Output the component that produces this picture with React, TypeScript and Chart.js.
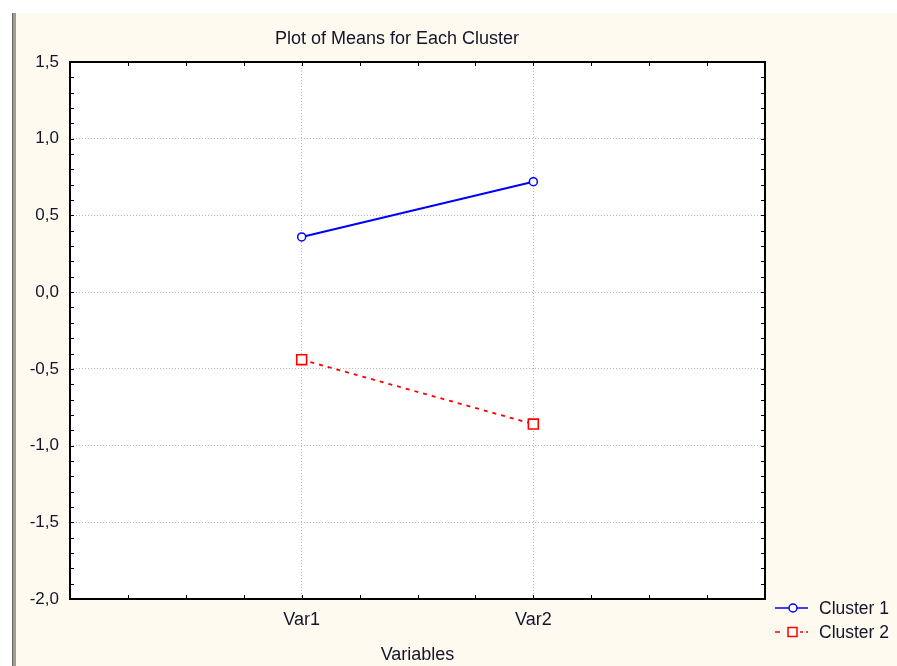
import React, { useEffect, useRef } from 'react';
import { Chart, registerables } from 'chart.js';

Chart.register(...registerables);

const categories = ['Var1', 'Var2'];
const seriesNames = ['Cluster 1', 'Cluster 2'];
const cluster1 = [0.36, 0.72];
const cluster2 = [-0.44, -0.86];
const yTickValues = [-2, -1.5, -1, -0.5, 0, 0.5, 1, 1.5];
const chartTitle = 'Plot of Means for Each Cluster';
const xAxisTitle = 'Variables';

const FONT = "'Liberation Sans', Arial, sans-serif";
const TEXT = '#14142a';
const BLUE = '#0000ff';
const RED = '#ff0000';

const decorPlugin = {
  id: 'decor',
  beforeDraw(chart: any) {
    const { ctx, width, height } = chart;
    const a = chart.chartArea;
    ctx.save();
    ctx.fillStyle = '#ffffff';
    ctx.fillRect(0, 0, width, height);
    ctx.fillStyle = '#fffaf0';
    ctx.fillRect(12, 13, width - 12, height - 13);
    ctx.fillStyle = '#a09e96';
    ctx.fillRect(12, 13, 4, height - 13);
    ctx.fillStyle = '#6a6862';
    ctx.fillRect(12, 13, 1, height - 13);
    ctx.fillStyle = '#ffffff';
    ctx.fillRect(a.left, a.top, a.right - a.left, a.bottom - a.top);
    ctx.fillStyle = TEXT;
    ctx.font = `18px ${FONT}`;
    ctx.textAlign = 'center';
    ctx.textBaseline = 'alphabetic';
    ctx.fillText(chartTitle, 397, 44);
    ctx.restore();
  },
  afterDraw(chart: any) {
    const { ctx } = chart;
    const a = chart.chartArea;
    const xs = chart.scales.x;
    const ys = chart.scales.y;
    ctx.save();
    // frame
    ctx.strokeStyle = '#000000';
    ctx.lineWidth = 2;
    ctx.strokeRect(a.left, a.top, a.right - a.left, a.bottom - a.top);
    // inward tick marks
    ctx.lineWidth = 1;
    ctx.beginPath();
    for (let i = 1; i < 12; i++) {
      const px = Math.round(xs.getPixelForValue(xs.min + i * 0.25)) + 0.5;
      ctx.moveTo(px, a.bottom);
      ctx.lineTo(px, a.bottom - 4);
      ctx.moveTo(px, a.top);
      ctx.lineTo(px, a.top + 4);
    }
    for (let i = 1; i < 35; i++) {
      const py = Math.round(ys.getPixelForValue(ys.min + i * 0.1)) + 0.5;
      ctx.moveTo(a.left, py);
      ctx.lineTo(a.left + 4, py);
      ctx.moveTo(a.right, py);
      ctx.lineTo(a.right - 4, py);
    }
    ctx.stroke();
    // legend
    const items = [
      { name: seriesNames[0], color: BLUE, dashed: false, shape: 'circle' },
      { name: seriesNames[1], color: RED, dashed: true, shape: 'rect' },
    ];
    items.forEach((it, i) => {
      const y = 608 + i * 24;
      ctx.strokeStyle = it.color;
      ctx.lineWidth = 1.5;
      ctx.beginPath();
      if (it.dashed) {
        ctx.moveTo(775, y);
        ctx.lineTo(780, y);
        ctx.moveTo(800, y);
        ctx.lineTo(803, y);
        ctx.moveTo(806, y);
        ctx.lineTo(808, y);
      } else {
        ctx.moveTo(775, y);
        ctx.lineTo(808, y);
      }
      ctx.stroke();
      ctx.fillStyle = '#ffffff';
      ctx.beginPath();
      if (it.shape === 'circle') {
        ctx.arc(793, y, 4, 0, Math.PI * 2);
      } else {
        ctx.rect(788, y - 4.5, 9, 9);
      }
      ctx.fill();
      ctx.stroke();
      ctx.fillStyle = TEXT;
      ctx.font = `17.5px ${FONT}`;
      ctx.textAlign = 'left';
      ctx.textBaseline = 'alphabetic';
      ctx.fillText(it.name, 819, y + 6);
    });
    ctx.restore();
  },
};

export default function App() {
  const ref = useRef<HTMLCanvasElement | null>(null);
  useEffect(() => {
    if (!ref.current) return;
    const chart = new Chart(ref.current, {
      type: 'line',
      data: {
        datasets: [
          {
            label: seriesNames[0],
            data: categories.map((_, i) => ({ x: i + 1, y: cluster1[i] })),
            borderColor: BLUE,
            borderWidth: 2,
            pointStyle: 'circle',
            pointRadius: 4,
            pointBorderWidth: 1.5,
            pointBackgroundColor: '#ffffff',
            pointBorderColor: BLUE,
            tension: 0,
          },
          {
            label: seriesNames[1],
            data: categories.map((_, i) => ({ x: i + 1, y: cluster2[i] })),
            borderColor: RED,
            borderWidth: 1.8,
            borderDash: [4, 5],
            pointStyle: 'rect',
            pointRadius: 7,
            pointBorderWidth: 1.6,
            pointBackgroundColor: '#ffffff',
            pointBorderColor: RED,
            tension: 0,
          },
        ],
      },
      options: {
        animation: false,
        responsive: true,
        maintainAspectRatio: false,
        layout: { padding: { top: 62, right: 132, left: 0, bottom: 0 } },
        plugins: { legend: { display: false }, title: { display: false }, tooltip: { enabled: false } },
        scales: {
          x: {
            type: 'linear',
            min: 0,
            max: 3,
            afterBuildTicks: (s: any) => {
              s.ticks = categories.map((_, i) => ({ value: i + 1 }));
            },
            afterFit: (s: any) => {
              s.height = 67;
            },
            ticks: {
              autoSkip: false,
              maxRotation: 0,
              padding: 10,
              color: TEXT,
              font: { family: FONT, size: 18 },
              callback: (v: any) => categories[Math.round(Number(v)) - 1] ?? '',
            },
            grid: { drawTicks: false, color: '#b8b8b8', lineWidth: 1 },
            border: { display: false, dash: [1, 2] },
            title: {
              display: true,
              text: xAxisTitle,
              color: TEXT,
              font: { family: FONT, size: 18 },
              padding: { top: 0, bottom: 0 },
            },
          },
          y: {
            type: 'linear',
            min: yTickValues[0],
            max: yTickValues[yTickValues.length - 1],
            afterBuildTicks: (s: any) => {
              s.ticks = yTickValues.map((v) => ({ value: v }));
            },
            afterFit: (s: any) => {
              s.width = 70;
            },
            ticks: {
              padding: 11,
              color: TEXT,
              font: { family: FONT, size: 17 },
              callback: (v: any) => Number(v).toFixed(1).replace('.', ','),
            },
            grid: { drawTicks: false, color: '#b8b8b8', lineWidth: 1 },
            border: { display: false, dash: [1, 2] },
          },
        },
      },
      plugins: [decorPlugin],
    } as any);
    return () => chart.destroy();
  }, []);
  return (
    <div style={{ position: 'absolute', left: 0, top: 0, width: 897, height: 666 }}>
      <canvas ref={ref} />
    </div>
  );
}
